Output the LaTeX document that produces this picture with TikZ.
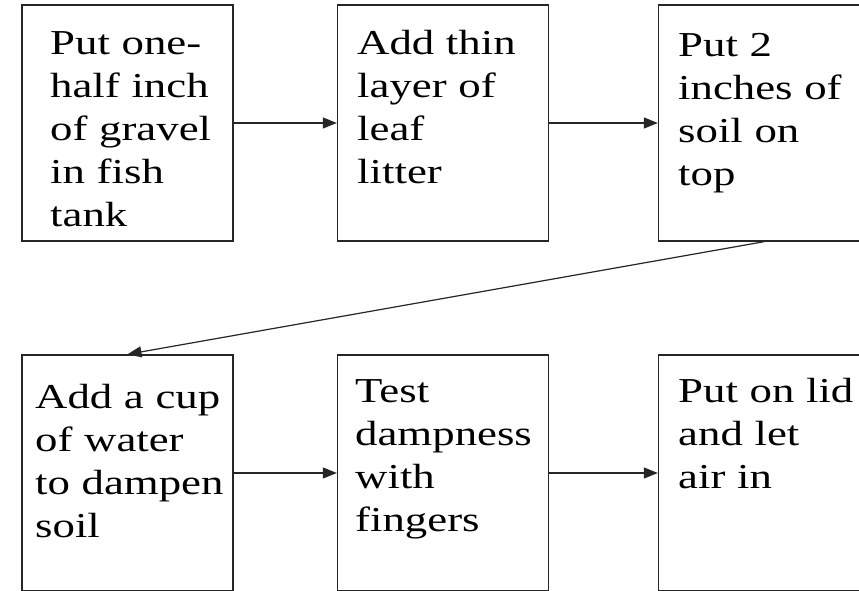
\documentclass[tikz,border=0pt]{standalone}
\usepackage{fontspec}
\setmainfont[FakeStretch=1.28]{Liberation Serif}
\usetikzlibrary{arrows.meta}
\begin{document}
\begin{tikzpicture}[x=1pt,y=1pt,
  stepbox/.style={draw=black!85, line width=1.4pt, minimum width=211pt, minimum height=236pt, inner sep=0pt},
  steptext/.style={anchor=base west, text width=260pt, align=left, inner sep=0pt,
    font=\fontsize{35}{43}\selectfont},
  flow/.style={line width=1.2pt, draw=black!85, -{Triangle[length=14pt,width=11pt]}}]
\clip (0,0) rectangle (859,590);
\fill[white] (0,0) rectangle (859,590);

% top row
\node[stepbox] (b1) at (127.5,467) {};
\node[stepbox] (b2) at (443,467) {};
\node[stepbox] (b3) at (764,467) {};
% bottom row
\node[stepbox] (b4) at (127.5,117) {};
\node[stepbox] (b5) at (443,117) {};
\node[stepbox] (b6) at (764,117) {};

% step texts
\node[steptext] (t1) at (50,535) {Put one-\\half inch\\of gravel\\in fish\\tank};
\node[steptext] (t2) at (357,535) {Add thin\\layer of\\leaf\\litter};
\node[steptext] (t3) at (678,533) {Put 2\\inches of\\soil on\\top};
\node[steptext] (t4) at (35,182) {Add a cup\\of water\\to dampen\\soil};
\node[steptext] (t5) at (355,188) {Test\\dampness\\with\\fingers};
\node[steptext] (t6) at (678,188) {Put on lid\\and let\\air in};

% connectors
\draw[flow] (b1.east) -- (b2.west);
\draw[flow] (b2.east) -- (b3.west);
\draw[flow] (b3.south) -- (b4.north);
\draw[flow] (b4.east) -- (b5.west);
\draw[flow] (b5.east) -- (b6.west);
\end{tikzpicture}
\end{document}
